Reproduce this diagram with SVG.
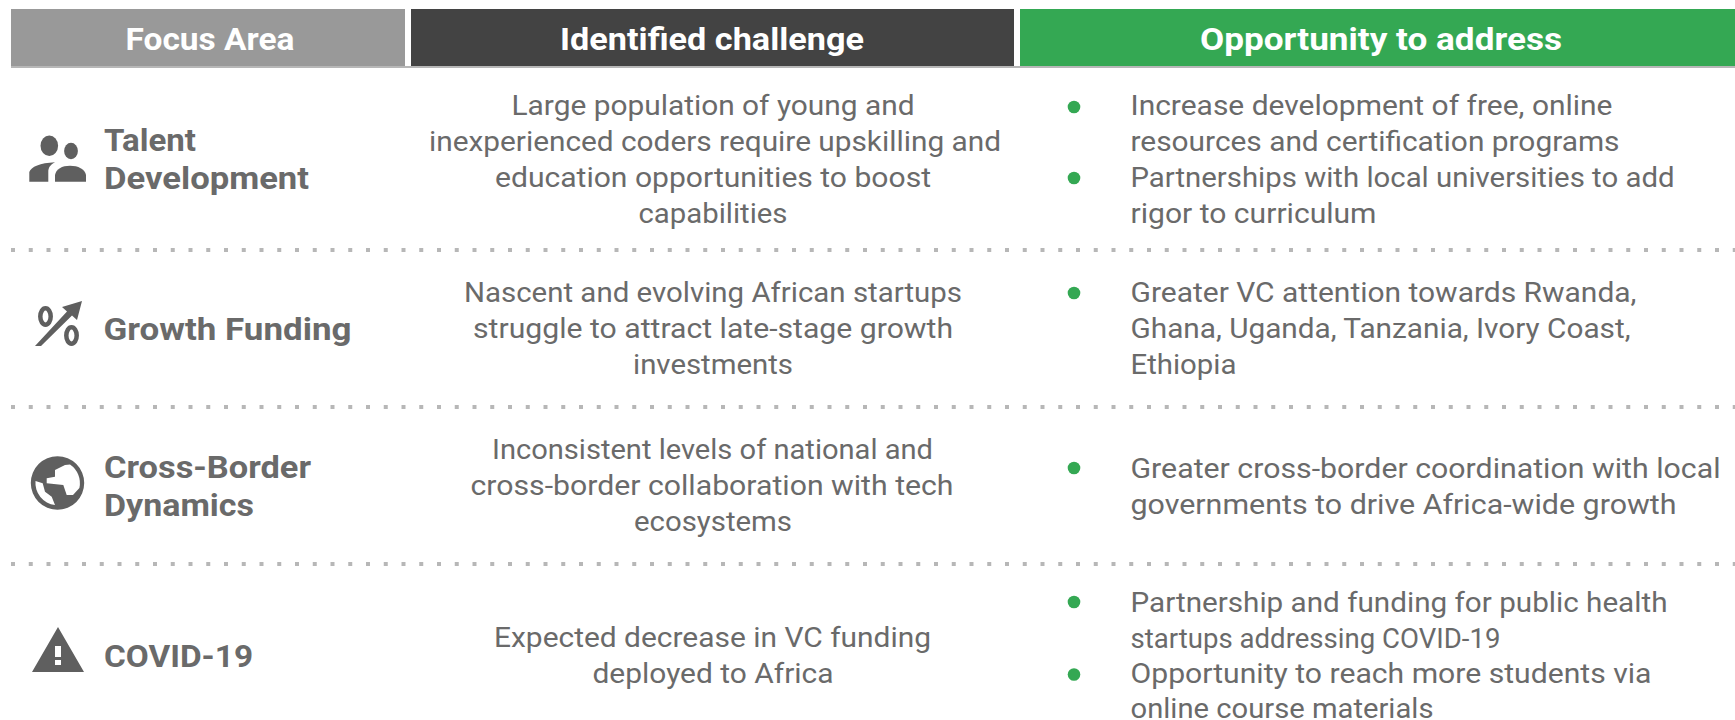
<svg xmlns="http://www.w3.org/2000/svg" width="1735" height="720" viewBox="0 0 1735 720">
<style>
text{font-family:"Roboto","Liberation Sans",sans-serif;fill:#6a6a6a}
.h{font-size:31px;font-weight:700;fill:#ffffff;text-anchor:middle}
.l{font-size:31px;font-weight:700}
.c{font-size:28px;text-anchor:middle}
.o{font-size:28px}
.i{fill:#5f5f5f}
.d{stroke:#b7b7b7;stroke-width:4;stroke-dasharray:4 13.75;fill:none}
.b{fill:#34a853}
</style>
<rect width="1735" height="720" fill="#ffffff"/>
<g id="connectors">
<path d="M11 67H1735" stroke="#b7b7b7" stroke-width="2" fill="none"/>
<path class="d" d="M11 250H1735"/>
<path class="d" d="M11 407H1735"/>
<path class="d" d="M11 564H1735"/>
</g>
<g id="header-focus"><rect x="11" y="9" width="394" height="57" fill="#999999"/><text class="h" x="210" y="50" textLength="169" lengthAdjust="spacingAndGlyphs">Focus Area</text></g>
<g id="header-challenge"><rect x="411" y="9" width="603" height="57" fill="#434343"/><text class="h" x="712" y="50" textLength="304" lengthAdjust="spacingAndGlyphs">Identified challenge</text></g>
<g id="header-opportunity"><rect x="1020" y="9" width="715" height="57" fill="#34a853"/><text class="h" x="1381" y="50" textLength="362" lengthAdjust="spacingAndGlyphs">Opportunity to address</text></g>
<g id="talent">
<g class="i"><ellipse cx="49.300" cy="145.700" rx="8.800" ry="10.300"/><ellipse cx="71" cy="151" rx="6.900" ry="8.300"/><path d="M29.300 181.700V172C31 167 40 163 55 162.300C50 165 48.300 168 48.300 172V181.700Z"/><path d="M55 181.700V175C56 169 62 165.700 70 165.700C78 165.700 85 169 86 175V181.700Z"/></g>
<text class="l" x="104" y="151" textLength="92" lengthAdjust="spacingAndGlyphs">Talent</text><text class="l" x="104" y="189" textLength="205" lengthAdjust="spacingAndGlyphs">Development</text>
<text class="c" x="713" y="115" textLength="403" lengthAdjust="spacingAndGlyphs">Large population of young and</text><text class="c" x="715" y="151" textLength="572" lengthAdjust="spacingAndGlyphs">inexperienced coders require upskilling and</text><text class="c" x="713" y="187" textLength="436" lengthAdjust="spacingAndGlyphs">education opportunities to boost</text><text class="c" x="713" y="223" textLength="149" lengthAdjust="spacingAndGlyphs">capabilities</text>
<circle class="b" cx="1074" cy="107" r="6.300"/><circle class="b" cx="1074" cy="178" r="6.300"/>
<text class="o" x="1130.500" y="115" textLength="482" lengthAdjust="spacingAndGlyphs">Increase development of free, online</text><text class="o" x="1130.500" y="151" textLength="489" lengthAdjust="spacingAndGlyphs">resources and certification programs</text><text class="o" x="1130.500" y="187" textLength="544" lengthAdjust="spacingAndGlyphs">Partnerships with local universities to add</text><text class="o" x="1130.500" y="223" textLength="246" lengthAdjust="spacingAndGlyphs">rigor to curriculum</text>
</g>
<g id="growth">
<g class="i"><ellipse cx="45.500" cy="316.500" rx="5.200" ry="8.200" fill="none" stroke="#5f5f5f" stroke-width="4.500"/><ellipse cx="71.500" cy="335.500" rx="5.200" ry="8.200" fill="none" stroke="#5f5f5f" stroke-width="4.500"/><path d="M35 346L67 311.500L62 307L82 301L77 320L72 315.500L41 346Z"/></g>
<text class="l" x="103.500" y="340" textLength="248" lengthAdjust="spacingAndGlyphs">Growth Funding</text>
<text class="c" x="713" y="302" textLength="498" lengthAdjust="spacingAndGlyphs">Nascent and evolving African startups</text><text class="c" x="713" y="338" textLength="480" lengthAdjust="spacingAndGlyphs">struggle to attract late-stage growth</text><text class="c" x="713" y="374" textLength="160" lengthAdjust="spacingAndGlyphs">investments</text>
<circle class="b" cx="1074" cy="293" r="6.300"/>
<text class="o" x="1130.500" y="302" textLength="506" lengthAdjust="spacingAndGlyphs">Greater VC attention towards Rwanda,</text><text class="o" x="1130.500" y="338" textLength="500" lengthAdjust="spacingAndGlyphs">Ghana, Uganda, Tanzania, Ivory Coast,</text><text class="o" x="1130.500" y="374" textLength="106" lengthAdjust="spacingAndGlyphs">Ethiopia</text>
</g>
<g id="cross-border">
<path class="i" fill-rule="evenodd" d="M57.500 456.300A26.700 26.700 0 1 0 57.500 509.700A26.700 26.700 0 1 0 57.500 456.300ZM65 465L70 464.600A22.500 22.500 0 0 1 79.400 488L73 495L66.700 495L63.300 485L46.700 483.300L46.700 478.300L55 476.700L55 470ZM35.500 481L42.700 483.300L45 491.700L51.700 496.700L55 505A22.200 22.200 0 0 1 35.500 481Z"/>
<text class="l" x="104" y="478" textLength="207" lengthAdjust="spacingAndGlyphs">Cross-Border</text><text class="l" x="104" y="516" textLength="150" lengthAdjust="spacingAndGlyphs">Dynamics</text>
<text class="c" x="712.500" y="459" textLength="441" lengthAdjust="spacingAndGlyphs">Inconsistent levels of national and</text><text class="c" x="712" y="495" textLength="483" lengthAdjust="spacingAndGlyphs">cross-border collaboration with tech</text><text class="c" x="713" y="531" textLength="158" lengthAdjust="spacingAndGlyphs">ecosystems</text>
<circle class="b" cx="1074" cy="468" r="6.300"/>
<text class="o" x="1130.500" y="478" textLength="590" lengthAdjust="spacingAndGlyphs">Greater cross-border coordination with local</text><text class="o" x="1130.500" y="514" textLength="546" lengthAdjust="spacingAndGlyphs">governments to drive Africa-wide growth</text>
</g>
<g id="covid">
<path class="i" fill-rule="evenodd" d="M58 627L84 672H32ZM55 646V657H61V646ZM55 660V665H61V660Z"/>
<text class="l" x="104" y="667" textLength="149" lengthAdjust="spacingAndGlyphs">COVID-19</text>
<text class="c" x="712.500" y="647" textLength="437" lengthAdjust="spacingAndGlyphs">Expected decrease in VC funding</text><text class="c" x="713" y="683" textLength="241" lengthAdjust="spacingAndGlyphs">deployed to Africa</text>
<circle class="b" cx="1074" cy="602" r="6.300"/><circle class="b" cx="1074" cy="674.500" r="6.300"/>
<text class="o" x="1130.500" y="612" textLength="537" lengthAdjust="spacingAndGlyphs">Partnership and funding for public health</text><text class="o" x="1130.500" y="648" textLength="370" lengthAdjust="spacingAndGlyphs">startups addressing COVID-19</text><text class="o" x="1130.500" y="683" textLength="521" lengthAdjust="spacingAndGlyphs">Opportunity to reach more students via</text><text class="o" x="1130.500" y="718" textLength="303" lengthAdjust="spacingAndGlyphs">online course materials</text>
</g>
</svg>
